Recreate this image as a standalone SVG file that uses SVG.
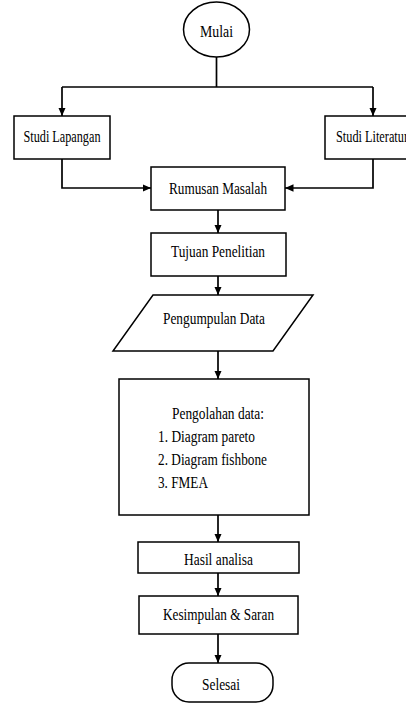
<svg xmlns="http://www.w3.org/2000/svg" width="406" height="704" viewBox="0 0 406 704">
<style>
.shape{fill:#fff;stroke:#000;stroke-width:1.5}
.line{fill:none;stroke:#000;stroke-width:1.7}
.t{font-family:'Liberation Serif','Times New Roman',serif;font-size:17.5px;fill:#000}
.c{text-anchor:middle}
</style>
<defs>
<marker id="arr" markerUnits="userSpaceOnUse" markerWidth="9" markerHeight="8" refX="8.5" refY="3.75" orient="auto">
<path d="M0,0 L8.5,3.75 L0,7.5 z" fill="#000"/>
</marker>
</defs>
<rect width="406" height="704" fill="#fff"/>
<g id="connectors">
<path class="line" d="M216.5,57 V87"/>
<path class="line" d="M62,87 H373"/>
<path class="line" d="M62,87 V116" marker-end="url(#arr)"/>
<path class="line" d="M373,87 V116" marker-end="url(#arr)"/>
<path class="line" d="M62,159 V188 H151" marker-end="url(#arr)"/>
<path class="line" d="M373,159 V188 H285" marker-end="url(#arr)"/>
<path class="line" d="M218,210 V233" marker-end="url(#arr)"/>
<path class="line" d="M218,276 V295" marker-end="url(#arr)"/>
<path class="line" d="M218,351 V379" marker-end="url(#arr)"/>
<path class="line" d="M218,515 V542" marker-end="url(#arr)"/>
<path class="line" d="M218,573 V596" marker-end="url(#arr)"/>
<path class="line" d="M218,634 V663" marker-end="url(#arr)"/>
</g>
<g id="mulai">
<ellipse class="shape" cx="216.5" cy="29.5" rx="33" ry="27.5"/>
<text class="t c" x="216.5" y="37" textLength="33" lengthAdjust="spacingAndGlyphs">Mulai</text>
</g>
<g id="studi-lapangan">
<rect class="shape" x="14" y="116" width="96" height="43"/>
<text class="t c" x="62" y="142" textLength="77" lengthAdjust="spacingAndGlyphs">Studi Lapangan</text>
</g>
<g id="studi-literatur">
<rect class="shape" x="325" y="116" width="90" height="43"/>
<text class="t" x="336" y="142" textLength="72" lengthAdjust="spacingAndGlyphs">Studi Literatur</text>
</g>
<g id="rumusan-masalah">
<rect class="shape" x="151" y="167" width="134" height="43"/>
<text class="t c" x="218" y="194" textLength="98" lengthAdjust="spacingAndGlyphs">Rumusan Masalah</text>
</g>
<g id="tujuan-penelitian">
<rect class="shape" x="151" y="233" width="135" height="43"/>
<text class="t c" x="218" y="257" textLength="94" lengthAdjust="spacingAndGlyphs">Tujuan Penelitian</text>
</g>
<g id="pengumpulan-data">
<polygon class="shape" points="153,295 313,295 273,351 113,351"/>
<text class="t c" x="214" y="324" textLength="102" lengthAdjust="spacingAndGlyphs">Pengumpulan Data</text>
</g>
<g id="pengolahan-data">
<rect class="shape" x="119" y="379" width="190" height="136"/>
<text class="t" x="172" y="419" textLength="92" lengthAdjust="spacingAndGlyphs">Pengolahan data:</text>
<text class="t" x="158" y="442" textLength="97" lengthAdjust="spacingAndGlyphs">1. Diagram pareto</text>
<text class="t" x="158" y="465" textLength="109" lengthAdjust="spacingAndGlyphs">2. Diagram fishbone</text>
<text class="t" x="158" y="488" textLength="50" lengthAdjust="spacingAndGlyphs">3. FMEA</text>
</g>
<g id="hasil-analisa">
<rect class="shape" x="138" y="542" width="161" height="31"/>
<text class="t c" x="218.5" y="565" textLength="69" lengthAdjust="spacingAndGlyphs">Hasil analisa</text>
</g>
<g id="kesimpulan-saran">
<rect class="shape" x="139" y="596" width="159" height="38"/>
<text class="t c" x="218.5" y="620" textLength="111" lengthAdjust="spacingAndGlyphs">Kesimpulan &amp; Saran</text>
</g>
<g id="selesai">
<rect class="shape" x="172" y="663" width="101" height="39" rx="17" ry="17"/>
<text class="t c" x="221" y="690" textLength="38" lengthAdjust="spacingAndGlyphs">Selesai</text>
</g>
</svg>
